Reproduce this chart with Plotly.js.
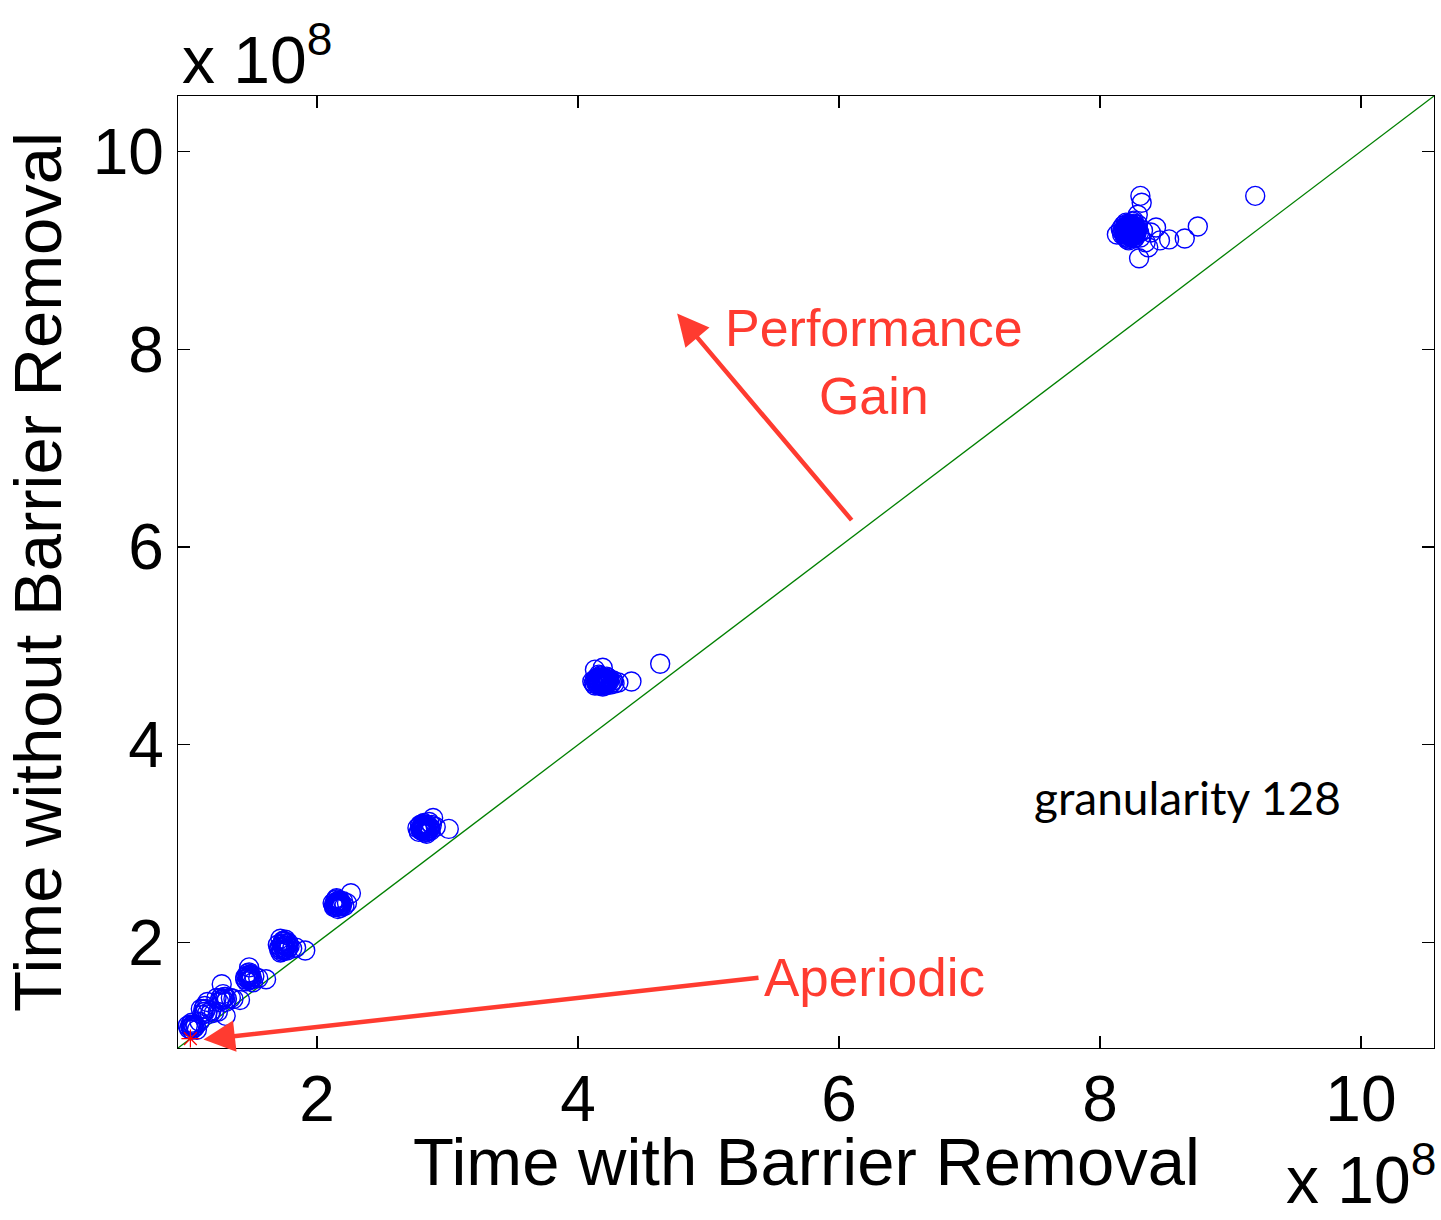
<!DOCTYPE html>
<html>
<head>
<meta charset="utf-8">
<script src="https://cdn.plot.ly/plotly-3.0.1.min.js"></script>
<style>html,body{margin:0;padding:0;background:#fff;}#chart{width:1441px;height:1220px;}</style>
</head>
<body>
<div id="chart"></div>
<script>
// Time with barrier removal (x 1e8) and time without barrier removal (x 1e8)
const timeWith = [
  // cluster ~8.2
  8.20,8.22,8.25,8.27,8.24,8.18,8.21,8.28,8.26,8.23,8.19,8.30,8.17,8.25,8.29,8.22,8.31,8.16,8.24,8.27,8.20,8.33,8.26,
  8.21,8.23,8.25,8.19,8.22,8.26,8.24,8.20,8.28,8.18,8.23,8.27,8.21,8.25,8.29,8.17,8.22,8.24,8.26,8.20,
  8.19,8.21,8.23,8.25,8.27,8.20,8.22,8.24,8.26,8.28,8.18,8.21,8.23,8.25,8.27,8.19,8.22,8.24,8.26,8.20,8.23,8.25,8.21,8.24,8.22,8.26,8.28,8.19,8.23,8.25,
  8.31,8.32,8.30,9.19,8.75,8.65,8.53,8.46,8.43,8.39,8.29,8.13,8.37,8.35,
  // cluster ~4.2
  4.15,4.18,4.20,4.13,4.22,4.17,4.25,4.11,4.19,4.23,4.16,4.27,4.14,4.21,4.28,4.12,4.24,
  4.16,4.18,4.20,4.14,4.22,4.19,4.17,4.21,4.15,4.23,4.18,4.26,
  4.14,4.16,4.18,4.20,4.22,4.24,4.15,4.17,4.19,4.21,4.23,4.13,4.16,4.18,4.20,4.22,4.17,4.19,4.15,4.21,
  4.41,4.63,4.13,4.19,4.31,
  // cluster ~2.8
  2.80,2.83,2.85,2.78,2.82,2.87,2.79,2.84,2.81,2.88,2.86,2.77,2.83,
  2.81,2.83,2.82,2.85,2.80,2.84,2.79,2.86,
  2.80,2.82,2.84,2.86,2.81,2.83,2.85,2.79,2.82,2.84,2.80,2.87,
  3.01,2.89,2.91,
  // cluster ~2.15
  2.15,2.17,2.13,2.19,2.14,2.18,2.12,2.20,2.16,2.21,2.15,
  2.16,2.17,2.15,2.18,2.14,2.16,
  2.14,2.16,2.18,2.15,2.17,2.19,2.13,2.16,2.18,2.14,
  2.26,2.23,
  // cluster ~1.75
  1.73,1.75,1.71,1.77,1.74,1.76,1.72,1.79,1.70,1.78,1.81,
  1.74,1.76,1.73,1.75,1.77,
  1.72,1.74,1.76,1.78,1.73,1.75,1.77,1.71,1.74,1.76,
  1.91,1.84,1.72,
  // cluster ~1.48
  1.47,1.49,1.46,1.50,1.48,1.48,1.52,1.45,1.51,
  1.48,1.49,1.47,
  1.46,1.48,1.50,1.47,1.49,1.45,
  1.61,1.55,
  // cluster ~1.28
  1.27,1.29,1.25,1.31,1.27,1.34,1.41,1.28,1.36,1.23,1.30,
  1.28,1.26,1.30,
  // cluster ~1.15
  1.13,1.15,1.16,1.12,1.19,1.30,1.14,1.18,1.21,1.24,1.11,
  1.14,1.16,1.13,
  // cluster ~1.05
  1.03,1.05,1.02,1.06,1.04,1.07,1.01,1.08,1.04,1.10,
  1.04,1.05,1.03
];
const timeWithout = [
  9.20,9.17,9.22,9.15,9.25,9.19,9.27,9.21,9.12,9.14,9.23,9.18,9.16,9.29,9.26,9.10,9.13,9.21,9.19,9.24,9.13,9.20,9.30,
  9.18,9.21,9.17,9.16,9.24,9.20,9.13,9.22,9.17,9.25,9.27,9.19,9.11,9.25,9.22,9.19,9.15,9.23,9.16,9.17,
  9.14,9.16,9.18,9.20,9.22,9.24,9.26,9.14,9.16,9.18,9.20,9.22,9.24,9.26,9.13,9.17,9.19,9.21,9.23,9.28,9.15,9.19,9.21,9.25,9.12,9.27,9.20,9.21,9.20,9.15,
  9.55,9.48,8.92,9.55,9.24,9.12,9.11,9.10,9.23,9.18,9.36,9.16,9.03,9.08,
  4.65,4.62,4.66,4.60,4.63,4.69,4.61,4.64,4.59,4.68,4.71,4.65,4.67,4.60,4.62,4.62,4.66,
  4.63,4.66,4.62,4.64,4.65,4.68,4.61,4.67,4.66,4.64,4.60,4.63,
  4.62,4.64,4.66,4.68,4.62,4.64,4.68,4.70,4.62,4.64,4.66,4.66,4.60,4.68,4.65,4.69,4.65,4.63,4.61,4.62,
  4.64,4.82,4.76,4.78,4.63,
  3.15,3.18,3.13,3.12,3.21,3.16,3.19,3.10,3.14,3.19,3.22,3.16,3.12,
  3.16,3.14,3.18,3.17,3.13,3.15,3.15,3.14,
  3.17,3.19,3.12,3.16,3.20,3.11,3.19,3.18,3.13,3.17,3.14,3.13,
  3.15,3.26,3.17,
  2.38,2.41,2.36,2.39,2.43,2.35,2.40,2.42,2.34,2.37,2.45,
  2.39,2.37,2.41,2.40,2.38,2.42,
  2.40,2.36,2.38,2.44,2.43,2.37,2.38,2.40,2.42,2.36,
  2.50,2.40,
  1.93,1.97,1.95,1.92,2.01,2.03,1.90,1.96,1.98,2.00,1.94,
  1.95,1.94,1.98,1.92,1.97,
  1.96,1.99,2.01,1.95,1.91,1.93,1.99,1.93,2.02,1.96,
  1.92,1.95,2.04,
  1.64,1.67,1.61,1.63,1.70,1.75,1.66,1.65,1.60,
  1.65,1.63,1.67,
  1.66,1.62,1.65,1.69,1.68,1.63,
  1.63,1.64,
  1.42,1.45,1.40,1.43,1.58,1.44,1.42,1.48,1.43,1.44,1.40,
  1.43,1.44,1.45,
  1.30,1.33,1.40,1.27,1.31,1.26,1.36,1.28,1.29,1.30,1.33,
  1.30,1.29,1.33,
  1.15,1.17,1.13,1.14,1.19,1.16,1.16,1.12,1.12,1.20,
  1.15,1.14,1.17
];
const aperiodicX = [1.03];
const aperiodicY = [1.03];
const axisRange = [0.935, 10.56];
const tickValues = [2, 4, 6, 8, 10];
const tickLabels = ['2', '4', '6', '8', '10'];

const HELV = 'Liberation Sans, Arial, Helvetica, sans-serif';
const RED = '#ff3b30';

const traces = [
  {
    x: axisRange, y: axisRange, mode: 'lines', type: 'scatter',
    line: {color: '#008000', width: 1.3}, hoverinfo: 'skip', showlegend: false
  },
  {
    x: timeWith, y: timeWithout, mode: 'markers', type: 'scatter',
    marker: {symbol: 'circle-open', size: 19, color: '#0000ff', line: {width: 1.4, color: '#0000ff'}},
    showlegend: false
  },
  {
    x: aperiodicX, y: aperiodicY, mode: 'markers', type: 'scatter',
    marker: {symbol: 'asterisk-open', size: 15, color: '#ff0000', line: {width: 1.2, color: '#ff0000'}},
    showlegend: false
  }
];

const axisCommon = {
  range: axisRange, showgrid: false, zeroline: false,
  showline: true, linecolor: '#000', linewidth: 1.3, mirror: 'ticks',
  ticks: 'inside', ticklen: 12, tickwidth: 1.3, tickcolor: '#000',
  tickvals: tickValues, ticktext: tickLabels,
  tickfont: {family: HELV, size: 64, color: '#000'}
};

const layout = {
  width: 1441, height: 1220,
  margin: {l: 178, r: 7, t: 96, b: 172},
  paper_bgcolor: '#fff', plot_bgcolor: '#fff',
  showlegend: false,
  xaxis: Object.assign({}, axisCommon, {ticklabelstandoff: -5}),
  yaxis: Object.assign({}, axisCommon, {
    title: {text: 'Time without Barrier Removal', font: {family: HELV, size: 67, color: '#000'}, standoff: 12}
  }),
  annotations: [
    {xref: 'paper', yref: 'paper', x: 0.5, y: -0.1195, xanchor: 'center', yanchor: 'middle',
     text: 'Time with Barrier Removal', showarrow: false, font: {family: HELV, size: 67, color: '#000'}},
    {xref: 'paper', yref: 'paper', x: 0.0016, y: 0.997, xanchor: 'left', yanchor: 'bottom',
     text: 'x 10<sup>8</sup>', showarrow: false, font: {family: HELV, size: 66, color: '#000'}},
    {xref: 'paper', yref: 'paper', x: 1.003, y: -0.180, xanchor: 'right', yanchor: 'bottom',
     text: 'x 10<sup>8</sup>', showarrow: false, font: {family: HELV, size: 66, color: '#000'}},
    {xref: 'x', yref: 'y', axref: 'x', ayref: 'y', x: 4.76, y: 8.36, ax: 6.107, ay: 6.257,
     text: '', showarrow: true, arrowhead: 2, arrowsize: 1.4, arrowwidth: 4.5, arrowcolor: RED, standoff: 0},
    {xref: 'x', yref: 'y', axref: 'x', ayref: 'y', x: 1.13, y: 1.02, ax: 5.395, ay: 1.646,
     text: '', showarrow: true, arrowhead: 2, arrowsize: 1.4, arrowwidth: 4.5, arrowcolor: RED, standoff: 0},
    {xref: 'x', yref: 'y', x: 6.27, y: 7.87, xanchor: 'center', yanchor: 'middle',
     text: 'Performance<br>Gain', showarrow: false, font: {family: HELV, size: 52, color: RED}},
    {xref: 'x', yref: 'y', x: 6.27, y: 1.65, xanchor: 'center', yanchor: 'middle',
     text: 'Aperiodic', showarrow: false, font: {family: HELV, size: 53, color: RED}},
    {xref: 'x', yref: 'y', x: 8.67, y: 3.47, xanchor: 'center', yanchor: 'middle',
     text: 'granularity 128', showarrow: false, font: {family: 'Lato, sans-serif', size: 46, color: '#000'}}
  ]
};

Plotly.newPlot('chart', traces, layout, {displayModeBar: false, staticPlot: true});
</script>
</body>
</html>
